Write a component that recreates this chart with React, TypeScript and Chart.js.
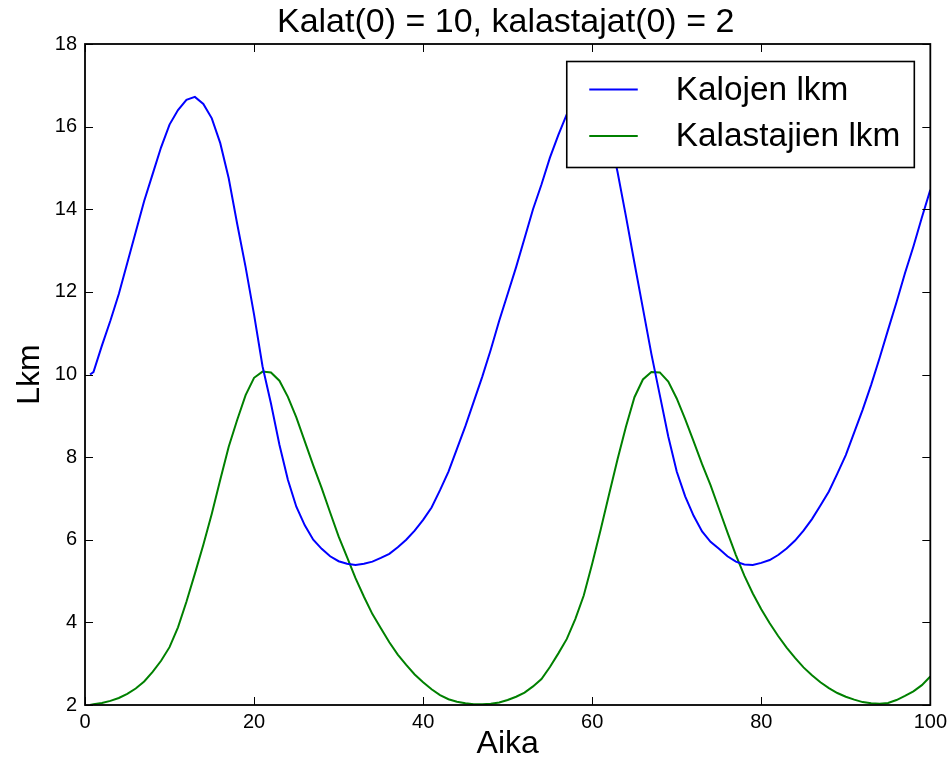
import React, { useEffect, useRef } from "react";
import { Chart, registerables } from "chart.js";

Chart.register(...registerables);

const TITLE = "Kalat(0) = 10, kalastajat(0) = 2";
const X_LABEL = "Aika";
const Y_LABEL = "Lkm";
const SERIES_NAMES = ["Kalojen lkm", "Kalastajien lkm"];
const SERIES_COLORS = ["#0000ff", "#008000"];
const X_TICKS = [0, 20, 40, 60, 80, 100];
const Y_TICKS = [2, 4, 6, 8, 10, 12, 14, 16, 18];

const TIME = [
  0.6, 1, 2, 3, 4, 5, 6, 7, 8, 9, 10, 11, 12, 13, 14, 15, 16, 17, 18, 19, 20,
  21, 22, 23, 24, 25, 26, 27, 28, 29, 30, 31, 32, 33, 34, 35, 36, 37, 38, 39, 40,
  41, 42, 43, 44, 45, 46, 47, 48, 49, 50, 51, 52, 53, 54, 55, 56, 57, 58, 59, 60,
  61, 62, 63, 64, 65, 66, 67, 68, 69, 70, 71, 72, 73, 74, 75, 76, 77, 78, 79, 80,
  81, 82, 83, 84, 85, 86, 87, 88, 89, 90, 91, 92, 93, 94, 95, 96, 97, 98, 99, 100,
];

const FISH = [
  10, 10.06, 10.7, 11.3, 11.95, 12.7, 13.45, 14.2, 14.85, 15.5, 16.05,
  16.4, 16.65, 16.72, 16.55, 16.2, 15.6, 14.75, 13.65, 12.6, 11.45,
  10.2, 9.3, 8.3, 7.45, 6.8, 6.35, 6.0, 5.78, 5.6, 5.48,
  5.42, 5.39, 5.42, 5.47, 5.56, 5.66, 5.82, 6.0, 6.22, 6.48,
  6.78, 7.2, 7.65, 8.2, 8.75, 9.35, 9.95, 10.6, 11.3, 11.95,
  12.6, 13.3, 14.0, 14.6, 15.25, 15.8, 16.3, 16.6, 16.72, 16.65,
  16.35, 15.85, 14.9, 13.82, 12.7, 11.6, 10.5, 9.5, 8.5, 7.65,
  7.05, 6.58, 6.2, 5.95, 5.78, 5.6, 5.47, 5.4, 5.39, 5.44,
  5.51, 5.63, 5.79, 5.98, 6.22, 6.5, 6.83, 7.17, 7.6, 8.05,
  8.6, 9.15, 9.75, 10.4, 11.08, 11.75, 12.45, 13.1, 13.8, 14.47,
];

const FISHERS = [
  2.0, 2.02, 2.05, 2.1, 2.17, 2.27, 2.4, 2.57, 2.8, 3.07, 3.4,
  3.88, 4.5, 5.18, 5.88, 6.63, 7.45, 8.25, 8.9, 9.5, 9.92,
  10.07, 10.05, 9.85, 9.46, 8.96, 8.38, 7.8, 7.25, 6.66, 6.08,
  5.58, 5.07, 4.62, 4.2, 3.86, 3.52, 3.22, 2.97, 2.74, 2.55,
  2.38, 2.24, 2.14, 2.08, 2.04, 2.02, 2.02, 2.03, 2.06, 2.12,
  2.2, 2.3, 2.45, 2.63, 2.92, 3.25, 3.6, 4.08, 4.65, 5.42,
  6.24, 7.1, 7.95, 8.74, 9.45, 9.88, 10.06, 10.05, 9.83, 9.42,
  8.92, 8.38, 7.83, 7.32, 6.75, 6.18, 5.63, 5.13, 4.7, 4.32,
  3.98, 3.67, 3.39, 3.14, 2.91, 2.72, 2.55, 2.41, 2.29, 2.2,
  2.13, 2.07, 2.04, 2.03, 2.05, 2.12, 2.22, 2.33, 2.48, 2.69,
];

const FONT = '"Liberation Sans", Arial, Helvetica, sans-serif';

const decorPlugin = {
  id: "decor",
  afterDatasetsDraw(chart: any) {
    const { ctx, chartArea: a, scales } = chart;
    ctx.save();
    // inward ticks on all four sides
    ctx.strokeStyle = "#000";
    ctx.lineWidth = 1;
    ctx.beginPath();
    for (const v of X_TICKS) {
      const px = Math.round(scales.x.getPixelForValue(v)) + 0.5;
      ctx.moveTo(px, a.bottom);
      ctx.lineTo(px, a.bottom - 8);
      ctx.moveTo(px, a.top);
      ctx.lineTo(px, a.top + 8);
    }
    for (const v of Y_TICKS) {
      const py = Math.round(scales.y.getPixelForValue(v)) + 0.5;
      ctx.moveTo(a.left, py);
      ctx.lineTo(a.left + 8, py);
      ctx.moveTo(a.right, py);
      ctx.lineTo(a.right - 8, py);
    }
    ctx.stroke();
    // frame
    ctx.lineWidth = 1.8;
    ctx.strokeRect(a.left, a.top, a.right - a.left, a.bottom - a.top);

    // title
    ctx.fillStyle = "#000";
    ctx.font = `34px ${FONT}`;
    ctx.textAlign = "center";
    ctx.textBaseline = "middle";
    ctx.fillText(TITLE, (a.left + a.right) / 2 - 2, a.top - 21);

    // legend
    ctx.font = `33.4px ${FONT}`;
    const maxW = Math.max(...SERIES_NAMES.map((n) => ctx.measureText(n).width));
    const boxW = 109 + maxW + 14;
    const boxH = 106;
    const x1 = a.right - 16;
    const x0 = x1 - boxW;
    const y0 = a.top + 17.5;
    ctx.fillStyle = "#fff";
    ctx.fillRect(x0, y0, boxW, boxH);
    ctx.lineWidth = 1.6;
    ctx.strokeStyle = "#000";
    ctx.strokeRect(x0, y0, boxW, boxH);
    const rows = [y0 + 28, y0 + 74.5];
    SERIES_NAMES.forEach((name, i) => {
      ctx.strokeStyle = SERIES_COLORS[i];
      ctx.lineWidth = 2;
      ctx.beginPath();
      ctx.moveTo(x0 + 22.5, rows[i]);
      ctx.lineTo(x0 + 71, rows[i]);
      ctx.stroke();
      ctx.fillStyle = "#000";
      ctx.textAlign = "left";
      ctx.textBaseline = "middle";
      ctx.fillText(name, x0 + 109, rows[i] + 1);
    });
    ctx.restore();
  },
};

export default function App() {
  const ref = useRef<HTMLCanvasElement | null>(null);

  useEffect(() => {
    document.body.style.margin = "0";
    const canvas = ref.current;
    if (!canvas) return;
    const chart = new Chart(canvas, {
      type: "line",
      data: {
        datasets: [
          {
            label: SERIES_NAMES[0],
            data: TIME.map((t, i) => ({ x: t, y: FISH[i] })),
            borderColor: SERIES_COLORS[0],
            borderWidth: 2,
            pointRadius: 0,
            tension: 0,
            fill: false,
          },
          {
            label: SERIES_NAMES[1],
            data: TIME.map((t, i) => ({ x: t, y: FISHERS[i] })),
            borderColor: SERIES_COLORS[1],
            borderWidth: 2,
            pointRadius: 0,
            tension: 0,
            fill: false,
          },
        ],
      },
      options: {
        animation: false,
        responsive: false,
        devicePixelRatio: 1,
        layout: { padding: { left: 0, right: 21, top: 44, bottom: 0 } },
        plugins: {
          legend: { display: false },
          title: { display: false },
          tooltip: { enabled: false },
        },
        scales: {
          x: {
            type: "linear",
            min: 0,
            max: 100,
            afterFit: (s: any) => {
              s.height = 66;
            },
            afterBuildTicks: (s: any) => {
              s.ticks = X_TICKS.map((v) => ({ value: v }));
            },
            ticks: {
              font: { family: FONT, size: 20 },
              color: "#000",
              padding: 5,
              maxRotation: 0,
            },
            grid: { display: false, drawTicks: false },
            border: { display: false },
            title: {
              display: true,
              text: X_LABEL,
              color: "#000",
              font: { family: FONT, size: 32 },
              padding: { top: 0, bottom: 8 },
            },
          },
          y: {
            type: "linear",
            min: 2,
            max: 18,
            afterFit: (s: any) => {
              s.width = 85;
            },
            afterBuildTicks: (s: any) => {
              s.ticks = Y_TICKS.map((v) => ({ value: v }));
            },
            ticks: {
              font: { family: FONT, size: 20 },
              color: "#000",
              padding: 8,
            },
            grid: { display: false, drawTicks: false },
            border: { display: false },
            title: {
              display: true,
              text: Y_LABEL,
              color: "#000",
              font: { family: FONT, size: 32 },
              padding: { top: 11, bottom: 0 },
            },
          },
        },
      },
      plugins: [decorPlugin],
    });
    return () => chart.destroy();
  }, []);

  return (
    <div style={{ position: "fixed", left: 0, top: 0, width: 952, height: 771, background: "#fff" }}>
      <canvas ref={ref} width={952} height={771} style={{ display: "block" }} />
    </div>
  );
}
